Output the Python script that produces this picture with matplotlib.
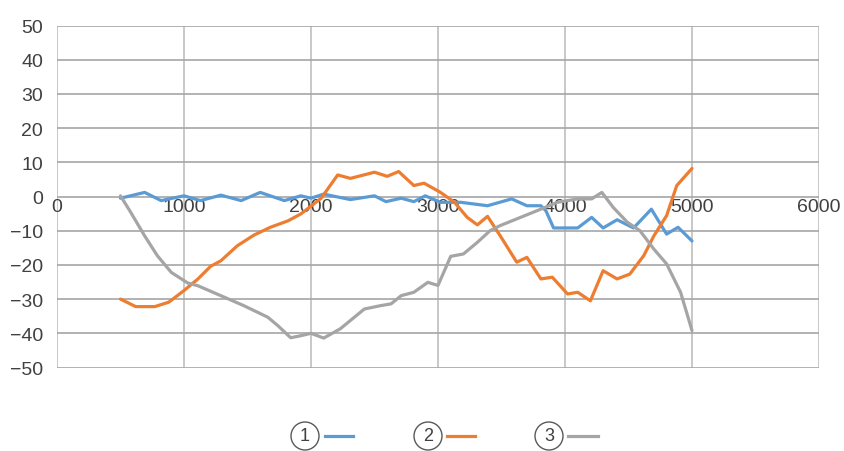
import matplotlib
matplotlib.use('agg')
import matplotlib.pyplot as plt
from matplotlib.patches import Circle
from matplotlib.lines import Line2D

# ряды данных
x1 = [500, 690, 820, 1000, 1130, 1290, 1450, 1600, 1790, 1920, 2000, 2100, 2310, 2500, 2590,
      2710, 2810, 2900, 3020, 3180, 3390, 3580, 3700, 3810, 3850, 3910, 4000, 4100, 4210, 4300,
      4410, 4540, 4680, 4800, 4890, 5000]
y1 = [-0.5, 1.2, -1.2, 0.2, -1.2, 0.4, -1.2, 1.2, -1.2, 0.2, -0.5, 0.7, -0.9, 0.2, -1.5,
      -0.5, -1.5, 0.2, -1.7, -1.7, -2.7, -0.7, -2.7, -2.7, -4.2, -9.2, -9.2, -9.2, -6.1, -9.2,
      -6.8, -9.2, -3.7, -11, -9, -13]

x2 = [500, 620, 770, 880, 1000, 1110, 1210, 1290, 1420, 1550, 1680, 1820, 1920, 2080, 2210,
      2310, 2500, 2600, 2690, 2810, 2890, 3020, 3130, 3230, 3310, 3390, 3490, 3620, 3700, 3810,
      3900, 4020, 4100, 4200, 4300, 4410, 4510, 4620, 4700, 4800, 4880, 5000]
y2 = [-30, -32.2, -32.2, -30.9, -27.5, -24.1, -20.4, -18.8, -14.4, -11.3, -9, -7.1, -5.1, -0.5, 6.3,
      5.3, 7.1, 5.9, 7.3, 3.2, 3.9, 1.2, -1.7, -6.1, -8.3, -5.8, -11.5, -19.2, -17.8, -24.1,
      -23.6, -28.5, -28, -30.5, -21.7, -24.1, -22.7, -17.3, -11.5, -5.6, 3.2, 8.2]

x3 = [500, 580, 690, 790, 900, 1030, 1110, 1290, 1470, 1660, 1740, 1840, 1920, 2000, 2100,
      2230, 2420, 2550, 2630, 2710, 2810, 2920, 3000, 3100, 3200, 3310, 3410, 3490, 3650, 3810,
      3940, 4100, 4210, 4290, 4380, 4490, 4590, 4700, 4800, 4910, 5000]
y3 = [0.2, -4.6, -11.5, -17.3, -22.2, -25.3, -26.1, -29, -31.9, -35.3, -37.8, -41.3, -40.7, -40, -41.4,
      -38.7, -32.9, -31.9, -31.4, -29, -28, -25.1, -26, -17.5, -16.8, -13.4, -10, -8.5, -6.1, -3.7,
      -1.7, -0.7, -0.7, 1.2, -3.2, -7.5, -10, -15.4, -19.7, -28, -39.2]

labels = ['1', '2', '3']
colors = ['#5B9BD5', '#ED7D31', '#A5A5A5']
x_ticks = [0, 1000, 2000, 3000, 4000, 5000, 6000]
y_ticks = [-50, -40, -30, -20, -10, 0, 10, 20, 30, 40, 50]

plt.rcParams['font.family'] = ['Liberation Sans', 'DejaVu Sans']
W, H = 845, 452
fig = plt.figure(figsize=(W / 100, H / 100), dpi=100)
ax = fig.add_axes([57 / W, (H - 368.5) / H, 762 / W, 342 / H])

for xs, ys, c in zip([x1, x2, x3], [y1, y2, y3], colors):
    ax.plot(xs, ys, color=c, lw=2.3, solid_joinstyle='round', solid_capstyle='round')

ax.set_xlim(0, 6000)
ax.set_ylim(-50, 50)
ax.set_xticks(x_ticks)
ax.set_yticks(y_ticks)
ax.xaxis.grid(True, color='#c8c8c8', lw=1.4)
ax.yaxis.grid(True, color='#a6a6a6', lw=1.2)
ax.set_axisbelow(True)
for s in ax.spines.values():
    s.set_visible(False)
ax.spines['bottom'].set_position(('data', 0))
ax.tick_params(axis='both', length=0, labelsize=14, labelcolor='#404040')
ax.tick_params(axis='x', pad=1)
ax.tick_params(axis='y', pad=10)

# легенда: номер в кружке и отрезок линии
cx_list = [305, 428, 549]
line_x = [(325, 353), (447, 475), (568, 598)]
ly = 437
for lab, c, cx, (xa, xb) in zip(labels, colors, cx_list, line_x):
    fig.add_artist(Circle((cx / 100, (H - ly) / 100), 0.14, transform=fig.dpi_scale_trans,
                          fill=False, ec='#595959', lw=1.0))
    fig.text(cx / W, (H - ly) / H, lab, ha='center', va='center', fontsize=13, color='#404040')
    fig.add_artist(Line2D([xa / W, xb / W], [(H - ly) / H] * 2, transform=fig.transFigure,
                          color=c, lw=2.3))

fig.savefig('out.png', dpi=100)
